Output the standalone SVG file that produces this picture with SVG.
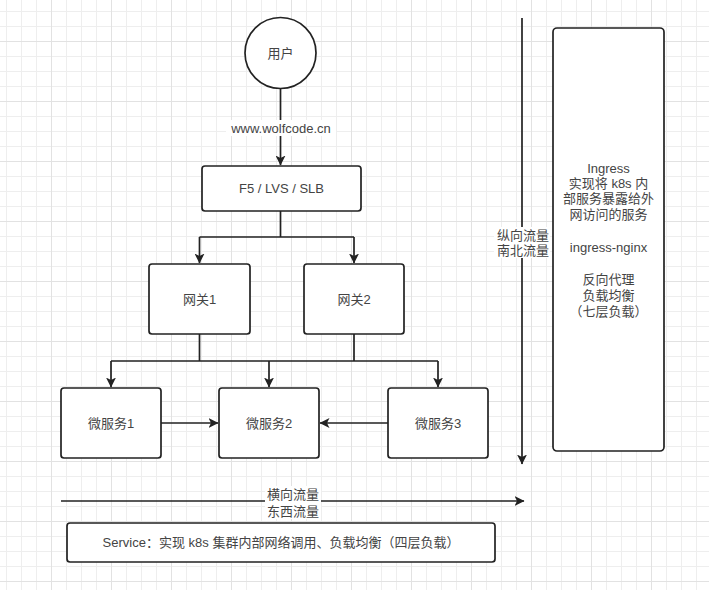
<svg xmlns="http://www.w3.org/2000/svg" width="709" height="590" viewBox="0 0 709 590">
<defs>
<pattern id="grid" x="-9" y="-19" width="60" height="60" patternUnits="userSpaceOnUse">
<path d="M15.5 0V60M30.5 0V60M45.5 0V60M0 15.5H60M0 30.5H60M0 45.5H60" stroke="#eeeeee" stroke-width="1" fill="none"/>
<path d="M0.5 0V60M0 0.5H60" stroke="#e2e2e2" stroke-width="1" fill="none"/>
</pattern>
<marker id="arr" viewBox="0 0 10 10" refX="9.5" refY="5" markerWidth="10" markerHeight="10" markerUnits="userSpaceOnUse" orient="auto">
<path d="M0 0L10 5L0 10L2.5 5Z" fill="#222"/>
</marker>
<style>
.box{fill:#fff;stroke:#222;stroke-width:1.7}
.t{font-family:"Liberation Sans","Noto Sans CJK SC",sans-serif;font-size:13px;fill:#444;text-anchor:middle;dominant-baseline:central}
.e{fill:none;stroke:#222;stroke-width:1.7}
.a{marker-end:url(#arr)}
.bg{fill:#fff}
</style>
</defs>
<rect width="709" height="590" fill="#fff"/>
<rect width="709" height="590" fill="url(#grid)"/>

<g id="connectors">
<path class="e a" d="M280.5 89V165"/>
<rect class="bg" x="226" y="120" width="110" height="16"/>
<text class="t" x="281" y="128">www.wolfcode.cn</text>
<path class="e" d="M280.5 211V237H354M280.5 237H199.5"/>
<path class="e a" d="M199.5 237V263"/>
<path class="e a" d="M354 237V263"/>
<path class="e" d="M199.5 334V361M354 334V361M111 361H438"/>
<path class="e a" d="M111 361V387"/>
<path class="e a" d="M269 361V387"/>
<path class="e a" d="M438 361V387"/>
<path class="e a" d="M161 423H218"/>
<path class="e a" d="M388 423H320"/>
<path class="e a" d="M522 18V464"/>
<rect class="bg" x="494" y="227" width="56" height="31"/>
<text class="t" x="523" y="235">纵向流量</text>
<text class="t" x="523" y="250">南北流量</text>
<path class="e a" d="M61 501H524"/>
<rect class="bg" x="265" y="486" width="56" height="33"/>
<text class="t" x="293" y="494">横向流量</text>
<text class="t" x="293" y="511">东西流量</text>
</g>

<g id="user">
<circle class="box" cx="280.5" cy="53" r="35.5"/>
<text class="t" x="280.5" y="53">用户</text>
</g>
<g id="lb">
<rect class="box" x="202" y="166" width="159" height="45" rx="3"/>
<text class="t" x="281.5" y="188.5">F5 / LVS / SLB</text>
</g>
<g id="gw1">
<rect class="box" x="149" y="264" width="101" height="70" rx="3"/>
<text class="t" x="199.5" y="299">网关1</text>
</g>
<g id="gw2">
<rect class="box" x="304" y="264" width="100" height="70" rx="3"/>
<text class="t" x="354" y="299">网关2</text>
</g>
<g id="ms1">
<rect class="box" x="61" y="388" width="100" height="70" rx="3"/>
<text class="t" x="111" y="423">微服务1</text>
</g>
<g id="ms2">
<rect class="box" x="219" y="388" width="100" height="70" rx="3"/>
<text class="t" x="269" y="423">微服务2</text>
</g>
<g id="ms3">
<rect class="box" x="388" y="388" width="100" height="70" rx="3"/>
<text class="t" x="438" y="423">微服务3</text>
</g>
<g id="ingress">
<rect class="box" x="553" y="28" width="111" height="423" rx="4"/>
<text class="t" x="608.5" y="168">Ingress</text>
<text class="t" x="608.5" y="183">实现将 k8s 内</text>
<text class="t" x="608.5" y="198">部服务暴露给外</text>
<text class="t" x="608.5" y="214">网访问的服务</text>
<text class="t" x="608.5" y="247">ingress-nginx</text>
<text class="t" x="608.5" y="279">反向代理</text>
<text class="t" x="608.5" y="295">负载均衡</text>
<text class="t" x="608.5" y="311">（七层负载）</text>
</g>
<g id="service">
<rect class="box" x="67" y="523" width="428" height="39" rx="3"/>
<text class="t" x="281" y="542.5">Service：实现 k8s 集群内部网络调用、负载均衡（四层负载）</text>
</g>
</svg>
